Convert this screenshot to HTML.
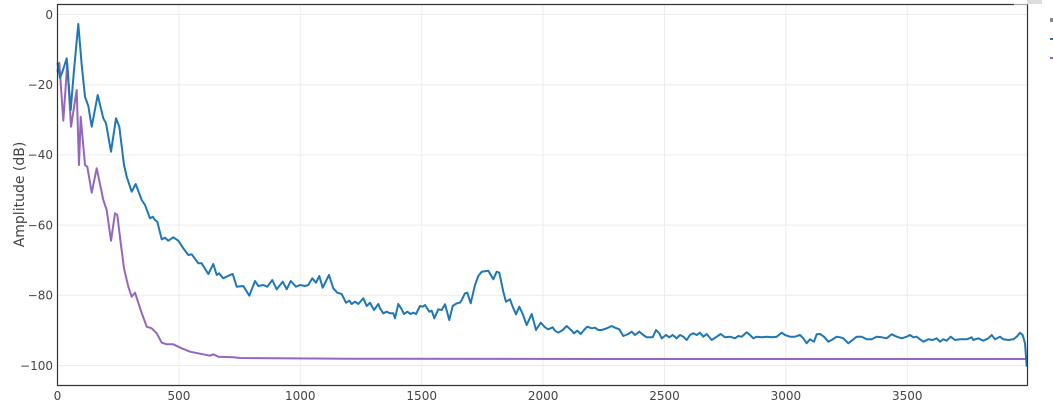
<!DOCTYPE html>
<html><head><meta charset="utf-8">
<style>
html,body{margin:0;padding:0;background:#fff;}
svg{display:block;}
text{font-family:"DejaVu Sans","Liberation Sans",sans-serif;fill:#444;}
</style></head>
<body>
<svg width="1053" height="413" viewBox="0 0 1053 413" xmlns="http://www.w3.org/2000/svg">
<rect x="0" y="0" width="1053" height="413" fill="#fff"/>
<!-- grid -->
<g stroke="#ececec" stroke-width="1">
<line x1="178.9" y1="4.5" x2="178.9" y2="385"/>
<line x1="300.3" y1="4.5" x2="300.3" y2="385"/>
<line x1="421.7" y1="4.5" x2="421.7" y2="385"/>
<line x1="543.1" y1="4.5" x2="543.1" y2="385"/>
<line x1="664.5" y1="4.5" x2="664.5" y2="385"/>
<line x1="785.9" y1="4.5" x2="785.9" y2="385"/>
<line x1="907.3" y1="4.5" x2="907.3" y2="385"/>
<line x1="57.5" y1="14.5" x2="1027.5" y2="14.5"/>
<line x1="57.5" y1="84.7" x2="1027.5" y2="84.7"/>
<line x1="57.5" y1="154.9" x2="1027.5" y2="154.9"/>
<line x1="57.5" y1="225.1" x2="1027.5" y2="225.1"/>
<line x1="57.5" y1="295.3" x2="1027.5" y2="295.3"/>
<line x1="57.5" y1="365.5" x2="1027.5" y2="365.5"/>
</g>
<!-- purple series -->
<polyline fill="none" stroke="#9467bd" stroke-width="2" stroke-linejoin="round" points="57.3,71.7 59.3,62.7 63.3,120.7 67.3,63.3 71,126.7 76.7,90 79,165 80.7,116.7 85,165 87.3,166.7 91.7,192.7 96.7,168.3 103.3,200 106.7,210 111,240.7 115,213.3 117.3,215 120.7,243 124,268.3 128.3,286.7 131.7,296.7 135,292.7 141.7,313 146.7,326.7 151.7,328.3 156.7,333.3 161.7,342.7 166.7,344.3 173.3,344.3 181.7,348.3 190,351.7 200,353.7 210,355.7 213.3,354.3 218.3,356.7 233.3,357.3 240,358 350,358.7 600,359 1027,359"/>
<!-- blue series -->
<polyline fill="none" stroke="#1f77b4" stroke-width="2" stroke-linejoin="round" points="57.5,63 60,78 63,70 66.7,58.3 70.7,110 74,70 78.3,24 81.7,65 85,96.7 88.3,106 91.7,126.7 97.7,95 103.3,118.3 106,123.3 111,151.7 116,118.3 119.3,126.7 124,165 126.7,176.7 131.7,191.7 135.7,184 141.7,200 145,205 150,218.3 152.7,216.7 155,220 157.3,221.7 161.7,239.3 165,237.7 168.3,240.7 173.3,237.3 178.3,240.7 183.3,248.3 188.3,255 191.7,254.3 198.3,263.3 201.7,263.3 208.3,274 213.3,264 216.7,275 219,273.3 223.3,278.3 230,275 232.7,274 236.7,286.7 243.3,286 249.3,295.7 255,281 258.3,286 263.3,285 267.3,286.7 272.3,280 276.7,289.3 282.7,281.7 286.7,289.3 290.7,281 296,286.7 300,285 305,286 308.3,285 312.3,278.3 316,282.7 319.3,276 322.7,287.7 329,275 333.3,288.3 337.3,292.7 341.7,294 346,302.7 349.3,300.7 351.7,304 355,301.7 358.3,304 363.3,298.3 366.7,306 370,302.7 374,310 378.3,304 380,308.3 383.3,313.3 386.7,311.7 390,313.3 393.3,313.3 395,318.3 398.3,304 401.7,309.3 404,314 407.3,311.7 410.7,314 413.3,312.7 416,314 420,306 422.7,306.7 425,305 429.3,311.7 431.7,310.7 434.3,318.3 438.3,309.3 441.7,310 445,304.3 449.3,320 452.7,306 456.7,303.3 460,302.7 461.7,300 465,293.3 467.3,292.7 470.7,303.3 475,285 478.3,276 481.7,271.7 488.3,270.7 493.3,279.3 496.7,271.7 499.3,272.7 503.3,291.7 506,301.7 510,299.3 512.7,306.7 516,314.3 519.3,306.7 522.7,314 526.7,325 531.7,314 536,330 540.7,322.7 545,327.3 548.3,329.3 552.7,327.3 555,330.7 558.3,332.7 562.7,330 566.7,326 571.7,330.7 574,333.3 577.3,330.7 580.7,334 584,330 587.3,326.7 591.7,328.3 595,327.7 598.3,330 601.7,330 606.7,328.3 611.7,326 615,327.7 619.3,329.3 623.3,336 628.3,334 631.7,331.7 635,335 639.3,331.7 643.3,335 646.7,337.3 652.7,337.3 656,330 659.3,333.3 661.7,338.3 666,335 669.3,337.3 672.7,335 676.7,338.3 680,335 683.3,336.7 686.7,340 690,335 693.3,333.3 696.7,335 700,332.7 703.3,336.7 706.7,334 711.7,340 716.7,336.7 720.7,334 725,337.3 730,336.7 735,338.3 738.3,336 741.7,336.7 746.7,332.3 750,335 753.3,338.3 756.7,336.7 761.7,337.3 766.7,336.7 771.7,337.3 776.7,336.7 781.7,332.7 785,335 790,336.7 795,336.7 800,335 803.3,338.3 806.7,343.3 810,339.3 814,341.7 816.7,334.3 820,334 824,336.7 828.3,341.7 831.7,340 836.7,336.7 840,337.3 843.3,338.3 848.3,343.3 851.7,340.7 856.7,336.7 861.7,336.7 866.7,339.3 871.7,339.3 876.7,336.7 881.7,337.3 886.7,338.3 891.7,334.3 896.7,336.7 901.7,338.3 906.7,336.7 910,335 913.3,337.3 916.7,336.7 920,339.3 923.3,341.7 928.3,339.3 932.7,340 936.7,338.3 940,341.7 943.3,339.3 946.7,340.7 950.7,336.7 955,340 960,339.3 966.7,339.3 971.7,337.3 973.3,340 978.3,338.3 983.3,340.7 988.3,338.3 991.7,335 995,339.3 1000,336.7 1003.3,339.3 1008.3,340 1013.3,339.3 1016.7,336.7 1020,332.7 1022.7,335 1025,343.3 1026.7,366.7"/>
<!-- axes frame -->
<g stroke="#333" stroke-width="1.2" fill="none">
<line x1="57.5" y1="4.5" x2="1014" y2="4.5"/>
<line x1="57.5" y1="4" x2="57.5" y2="385.5"/>
<line x1="57" y1="385.5" x2="1028" y2="385.5"/>
<line x1="1027.5" y1="4" x2="1027.5" y2="385.5"/>
</g>
<line x1="1014" y1="4.5" x2="1027.5" y2="4.5" stroke="#aaa" stroke-width="1.2"/>
<rect x="1027" y="0" width="15" height="4" fill="#dcdcdc"/>
<!-- legend fragments -->
<rect x="1050" y="18" width="3" height="4" fill="#888"/>
<rect x="1050" y="38" width="3" height="2" fill="#1f77b4"/>
<rect x="1050" y="57" width="3" height="2" fill="#9467bd"/>
<!-- y tick labels -->
<g font-size="12" text-anchor="end">
<text x="53" y="18.8">0</text>
<text x="53" y="89">−20</text>
<text x="53" y="159.2">−40</text>
<text x="53" y="229.4">−60</text>
<text x="53" y="299.6">−80</text>
<text x="53" y="369.8">−100</text>
</g>
<!-- x tick labels -->
<g font-size="12" text-anchor="middle">
<text x="57.5" y="400">0</text>
<text x="178.9" y="400">500</text>
<text x="300.3" y="400">1000</text>
<text x="421.7" y="400">1500</text>
<text x="543.1" y="400">2000</text>
<text x="664.5" y="400">2500</text>
<text x="785.9" y="400">3000</text>
<text x="907.3" y="400">3500</text>
</g>
<text font-size="14" text-anchor="middle" transform="translate(24,194.5) rotate(-90)">Amplitude (dB)</text>
</svg>
</body></html>
